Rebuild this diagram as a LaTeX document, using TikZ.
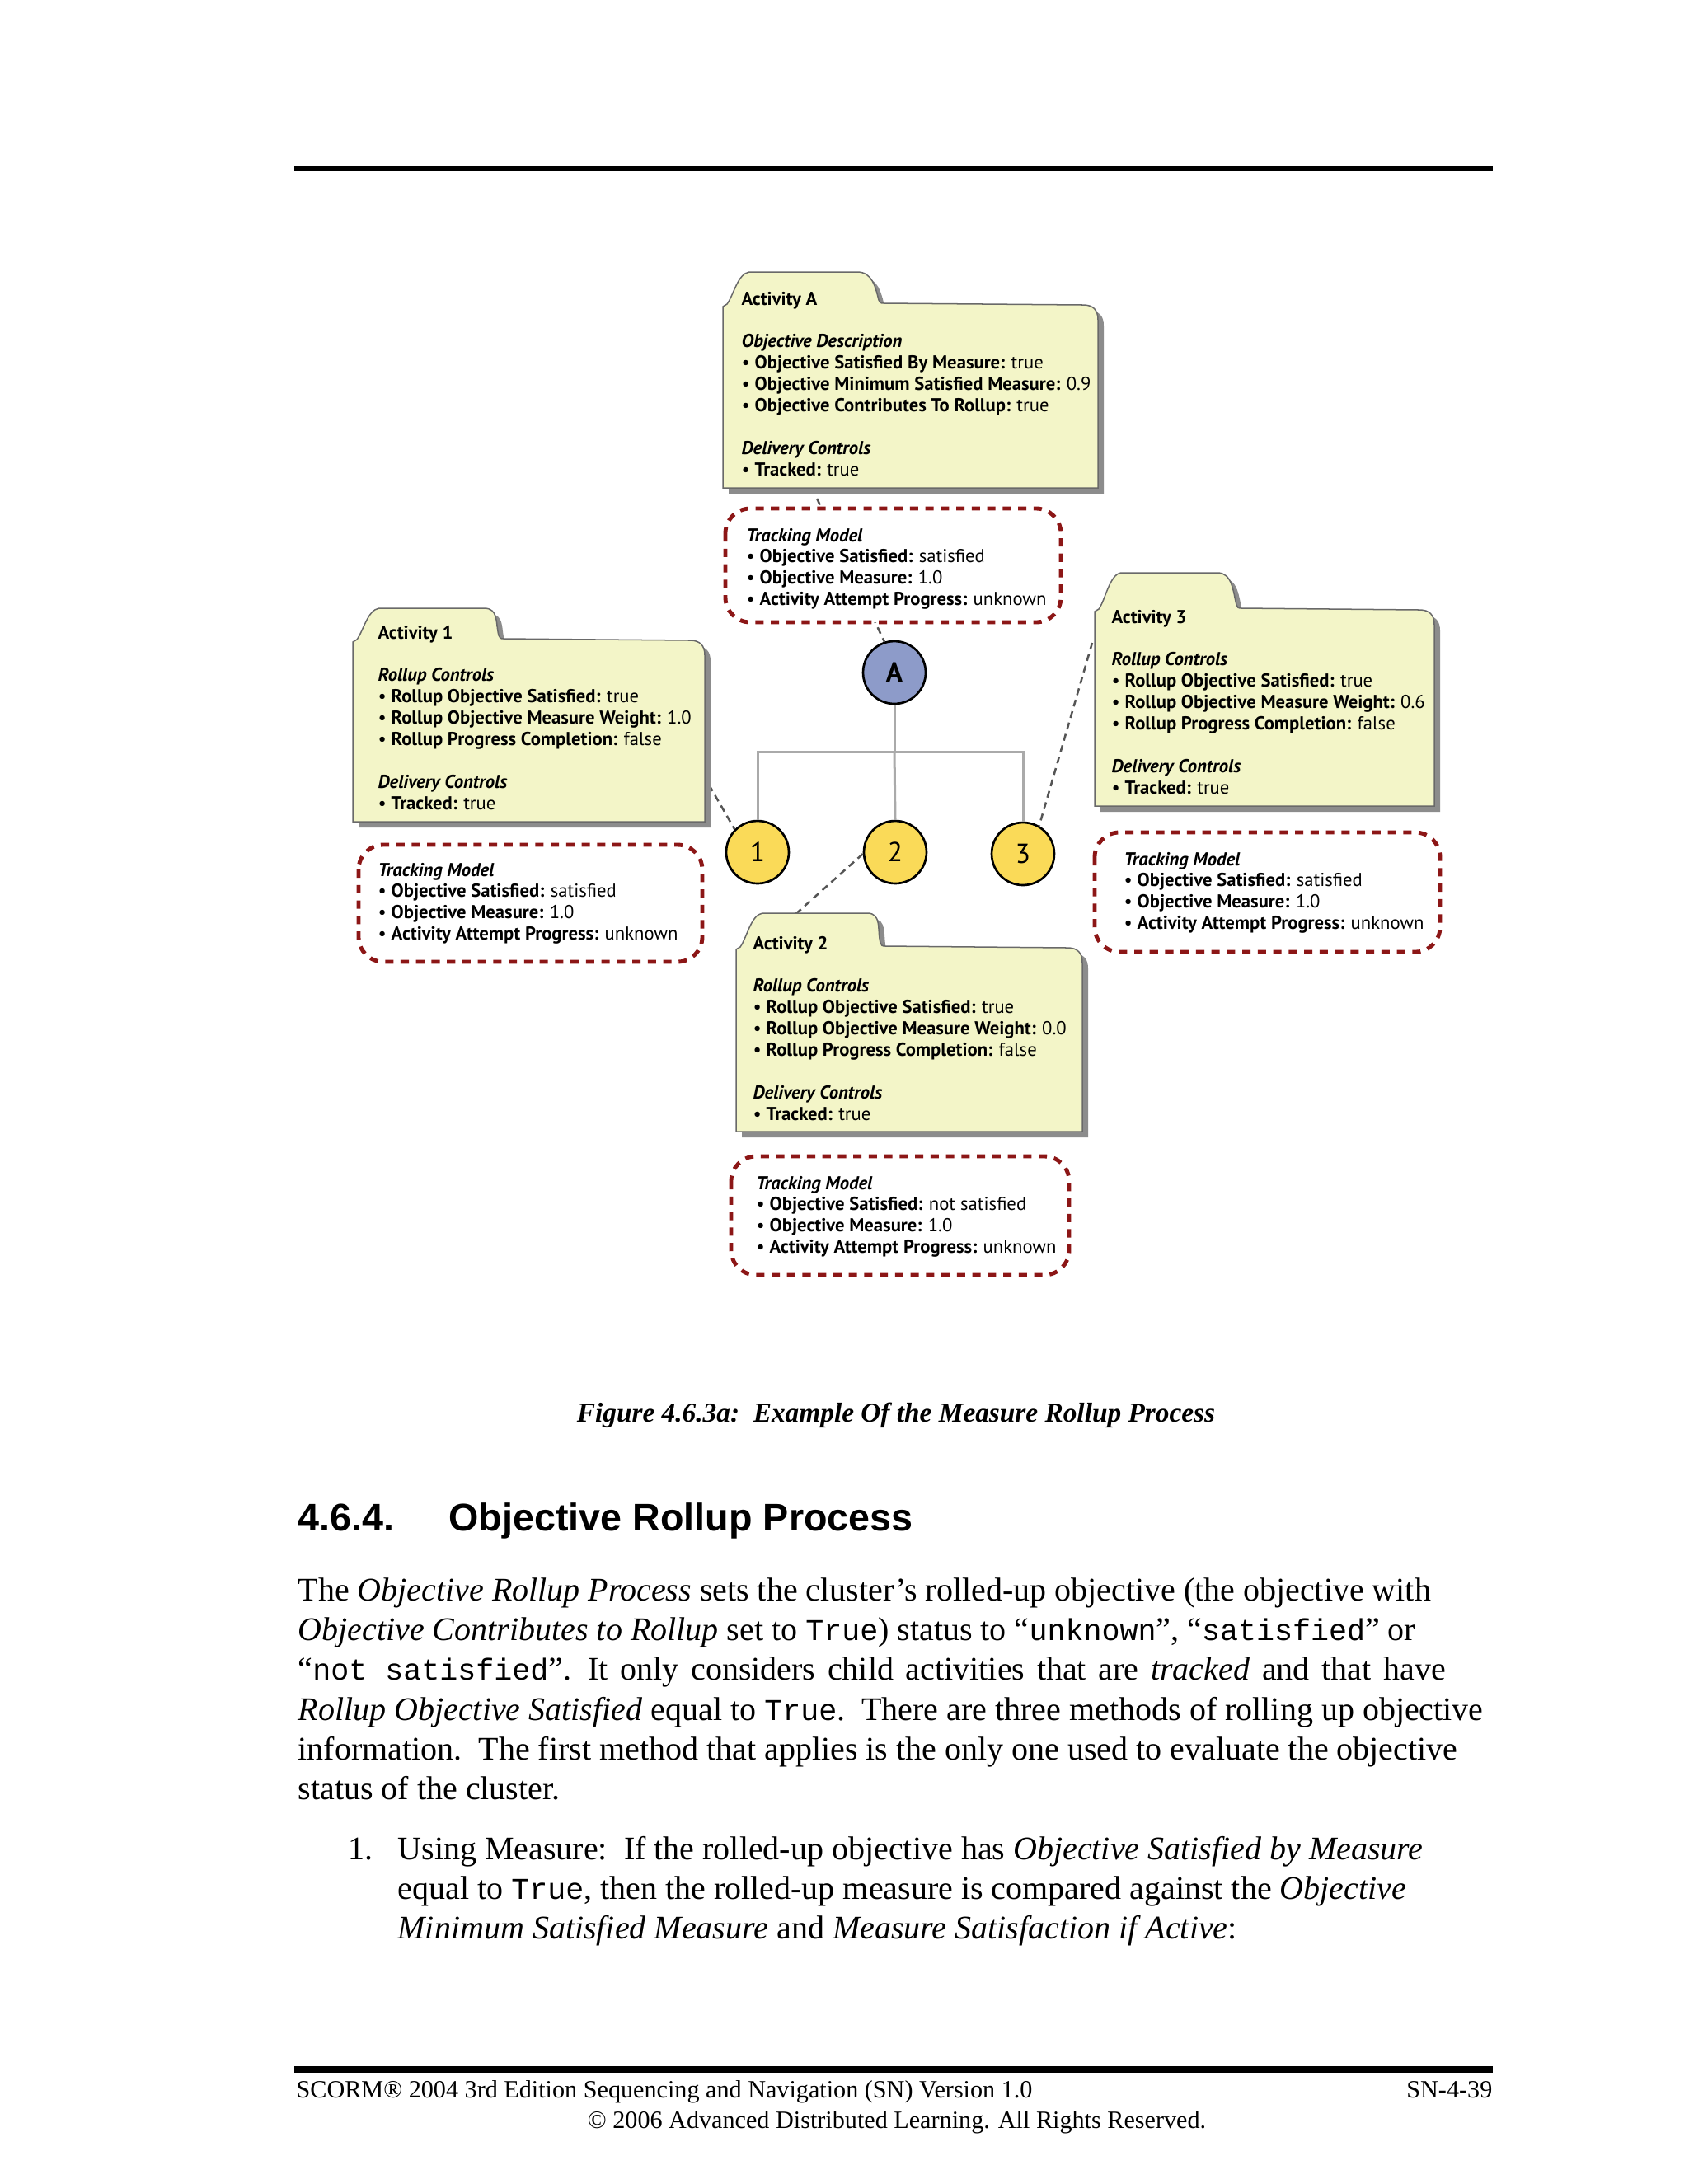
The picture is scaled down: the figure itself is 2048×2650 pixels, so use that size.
\documentclass[tikz,border=0pt]{standalone}
\usepackage{fontspec}
\setmainfont{Liberation Serif}
\setsansfont{Liberation Sans}
\setmonofont{Liberation Mono}
\newfontfamily\dfont{PT Sans}
\definecolor{folderfill}{RGB}{243,245,200}
\definecolor{folderline}{RGB}{105,105,105}
\definecolor{shadowc}{RGB}{140,140,140}
\definecolor{trackred}{RGB}{140,22,22}
\definecolor{circA}{RGB}{141,155,201}
\definecolor{circY}{RGB}{250,218,88}
\definecolor{treegray}{RGB}{170,170,170}
\definecolor{dashgray}{RGB}{85,85,85}
\newcommand\folderpath[7]{(#1,#4) -- (#1,#2+2) -- (#1+5,#2-1) .. controls (#1+13,#2-12) and (#1+18,#5+2) .. (#1+32,#5) -- (#6,#5) .. controls (#6+18,#5) and (#7-6,#2-22) .. (#7-2,#2-6) .. controls (#7-1,#2-3) and (#7,#2-2) .. (#7+4,#2-2) -- (#3-18,#2) .. controls (#3-6,#2) and (#3,#2+6) .. (#3,#2+18) -- (#3,#4) -- cycle}
\newcommand\drawfolder[7]{%
  \begin{scope}[shift={(7,7)}]\fill[shadowc] \folderpath{#1}{#2}{#3}{#4}{#5}{#6}{#7};\end{scope}
  \filldraw[fill=folderfill, draw=folderline, line width=0.45bp] \folderpath{#1}{#2}{#3}{#4}{#5}{#6}{#7};}
\newcommand\itm[2]{\makebox[4.8bp][l]{\textbullet}\textbf{#1}\hspace{2.2bp}#2}
\newcommand\mt[1]{{\fontsize{11}{12}\selectfont\ttfamily #1}}
\tikzset{
  dtext/.style={inner sep=0pt, anchor=base west, font=\dfont\fontsize{6.8}{7.77}\selectfont},
  trackbox/.style={draw=trackred, line width=1.45bp, dash pattern=on 3bp off 2.6bp, rounded corners=9bp, fill=white},
  circ/.style={circle, draw=black, line width=0.8bp, minimum size=22.7bp, inner sep=0pt, font=\dfont\fontsize{10}{12}\selectfont},
  tree/.style={draw=treegray, line width=0.9bp},
  conn/.style={draw=dashgray, line width=0.75bp, dash pattern=on 2.5bp off 1.8bp},
  body/.style={inner sep=0pt, anchor=base west, font=\fontsize{12}{14}\selectfont}
}
\begin{document}
\begin{tikzpicture}[x=0.298828bp, y=-0.298828bp]
\useasboundingbox[fill=white] (0,0) rectangle (2048,2650);
% page rules
\fill[black] (357,201) rectangle (1811,208);
\fill[black] (357,2507) rectangle (1811,2515);
% circles
\node[circ, fill=circA] (cA) at (1085,816) {\textbf{A}};
\node[circ, fill=circY] (c1) at (919,1034) {1};
\node[circ, fill=circY] (c2) at (1086,1034) {2};
\node[circ, fill=circY] (c3) at (1241,1036) {3};
% tree
\coordinate (bar) at (1085,912);
\draw[tree] (cA.south) -- (bar);
\draw[tree] (c1.north) |- (bar) -| (c3.north);
\draw[tree] (bar) -- (c2.north);
% connector ends on folders
\coordinate (pA) at (985,592);
\coordinate (p1) at (853,940);
\coordinate (p2) at (962,1112);
\coordinate (p3) at (1325,780);
\draw[conn] (pA) -- (cA.108);
\draw[conn] (p1) -- (c1.135);
\draw[conn] (c2.183) -- (p2);
\draw[conn] (p3) -- (c3.60);
% folders
\drawfolder{877}{370}{1332}{592}{330}{1040}{1068}
\drawfolder{428}{777}{855}{997}{738}{587}{607}
\drawfolder{1328}{740}{1740}{978}{695}{1477}{1502}
\drawfolder{893}{1150}{1313}{1373}{1108}{1052}{1070}
% tracking boxes
\draw[trackbox] (880,617) rectangle (1287,755);
\draw[trackbox] (435,1025) rectangle (852,1167);
\draw[trackbox] (1328,1010) rectangle (1747,1155);
\draw[trackbox] (887,1403) rectangle (1297,1547);
% folder texts
\node[dtext] (tA) at (899,370) {\begin{tabular}[t]{@{}l@{}}
\textbf{Activity A}\\ \\
\textbf{\textit{Objective Description}}\\
\itm{Objective Satisfied By Measure:}{true}\\
\itm{Objective Minimum Satisfied Measure:}{0.9}\\
\itm{Objective Contributes To Rollup:}{true}\\ \\
\textbf{\textit{Delivery Controls}}\\
\itm{Tracked:}{true}
\end{tabular}};
\node[dtext] (t1) at (458,775) {\begin{tabular}[t]{@{}l@{}}
\textbf{Activity 1}\\ \\
\textbf{\textit{Rollup Controls}}\\
\itm{Rollup Objective Satisfied:}{true}\\
\itm{Rollup Objective Measure Weight:}{1.0}\\
\itm{Rollup Progress Completion:}{false}\\ \\
\textbf{\textit{Delivery Controls}}\\
\itm{Tracked:}{true}
\end{tabular}};
\node[dtext] (t3) at (1348,756) {\begin{tabular}[t]{@{}l@{}}
\textbf{Activity 3}\\ \\
\textbf{\textit{Rollup Controls}}\\
\itm{Rollup Objective Satisfied:}{true}\\
\itm{Rollup Objective Measure Weight:}{0.6}\\
\itm{Rollup Progress Completion:}{false}\\ \\
\textbf{\textit{Delivery Controls}}\\
\itm{Tracked:}{true}
\end{tabular}};
\node[dtext] (t2) at (913,1152) {\begin{tabular}[t]{@{}l@{}}
\textbf{Activity 2}\\ \\
\textbf{\textit{Rollup Controls}}\\
\itm{Rollup Objective Satisfied:}{true}\\
\itm{Rollup Objective Measure Weight:}{0.0}\\
\itm{Rollup Progress Completion:}{false}\\ \\
\textbf{\textit{Delivery Controls}}\\
\itm{Tracked:}{true}
\end{tabular}};
% tracking texts
\node[dtext] (mA) at (905,657) {\begin{tabular}[t]{@{}l@{}}
\textbf{\textit{Tracking Model}}\\
\itm{Objective Satisfied:}{satisfied}\\
\itm{Objective Measure:}{1.0}\\
\itm{Activity Attempt Progress:}{unknown}
\end{tabular}};
\node[dtext] (m1) at (458,1063) {\begin{tabular}[t]{@{}l@{}}
\textbf{\textit{Tracking Model}}\\
\itm{Objective Satisfied:}{satisfied}\\
\itm{Objective Measure:}{1.0}\\
\itm{Activity Attempt Progress:}{unknown}
\end{tabular}};
\node[dtext] (m3) at (1363,1050) {\begin{tabular}[t]{@{}l@{}}
\textbf{\textit{Tracking Model}}\\
\itm{Objective Satisfied:}{satisfied}\\
\itm{Objective Measure:}{1.0}\\
\itm{Activity Attempt Progress:}{unknown}
\end{tabular}};
\node[dtext] (m2) at (917,1443) {\begin{tabular}[t]{@{}l@{}}
\textbf{\textit{Tracking Model}}\\
\itm{Objective Satisfied:}{not satisfied}\\
\itm{Objective Measure:}{1.0}\\
\itm{Activity Attempt Progress:}{unknown}
\end{tabular}};
% caption
\node[inner sep=0pt, anchor=base, font=\bfseries\itshape\fontsize{10}{12}\selectfont] (cap) at (1087,1725) {Figure 4.6.3a:\ \ Example Of the Measure Rollup Process};
% heading
\node[inner sep=0pt, anchor=base west, font=\sffamily\bfseries\fontsize{14}{16}\selectfont] (h1) at (361,1857) {4.6.4.};
\node[inner sep=0pt, anchor=base west, font=\sffamily\bfseries\fontsize{14}{16}\selectfont] (h2) at (544,1857) {Objective Rollup Process};
% body
\node[body] (b1) at (361,1942) {The \textit{Objective Rollup Process} sets the cluster’s rolled-up objective (the objective with};
\node[body] (b2) at (361,1990) {\textit{Objective Contributes to Rollup} set to \mt{True}) status to “\mt{unknown}”, “\mt{satisfied}” or};
\node[body] (b3) at (361,2038) {“\mt{not satisfied}”.\ \ {\spaceskip=4.4bp It only considers child activities that are \textit{tracked} and that have}};
\node[body] (b4) at (361,2087) {\textit{Rollup Objective Satisfied} equal to \mt{True}.\ \ There are three methods of rolling up objective};
\node[body] (b5) at (361,2135) {information.\ \ The first method that applies is the only one used to evaluate the objective};
\node[body] (b6) at (361,2183) {status of the cluster.};
\node[body] (l0) at (422,2256) {1.};
\node[body] (l1) at (482,2256) {Using Measure:\ \ If the rolled-up objective has \textit{Objective Satisfied by Measure}};
\node[body] (l2) at (482,2304) {equal to \mt{True}, then the rolled-up measure is compared against the \textit{Objective}};
\node[body] (l3) at (482,2352) {\textit{Minimum Satisfied Measure} and \textit{Measure Satisfaction if Active}:};
% footer
\node[inner sep=0pt, anchor=base west, font=\fontsize{9.05}{11}\selectfont] (f1) at (359,2545) {SCORM® 2004 3rd Edition Sequencing and Navigation (SN) Version 1.0};
\node[inner sep=0pt, anchor=base east, font=\fontsize{9.05}{11}\selectfont] (f2) at (1811,2545) {SN-4-39};
\node[inner sep=0pt, anchor=base, font=\fontsize{9.05}{11}\selectfont] (f3) at (1088,2582) {© 2006 Advanced Distributed Learning. All Rights Reserved.};
\end{tikzpicture}
\end{document}
